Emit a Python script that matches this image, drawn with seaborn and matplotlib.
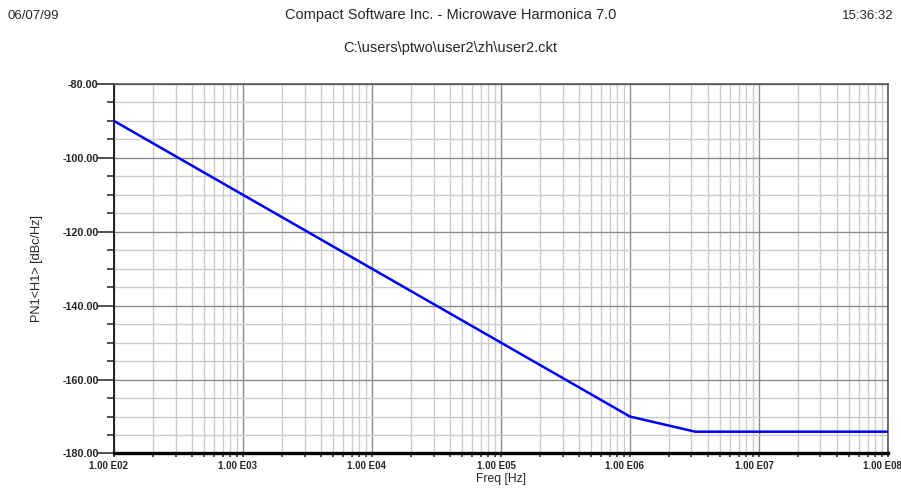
import numpy as np
import pandas as pd
import matplotlib
matplotlib.use("Agg")
import matplotlib.pyplot as plt
import seaborn as sns
from matplotlib.ticker import LogLocator, FixedLocator, MultipleLocator, NullFormatter
from matplotlib.transforms import ScaledTranslation

# values
freq_hz = [1e2, 1e3, 1e4, 1e5, 1e6, 3.2e6, 1e7, 1e8]
pn_dbc = [-90.0, -110.0, -130.0, -150.0, -170.0, -174.1, -174.1, -174.1]
x_ticks = [1e2, 1e3, 1e4, 1e5, 1e6, 1e7, 1e8]
x_labels = ["1.00 E02", "1.00 E03", "1.00 E04", "1.00 E05", "1.00 E06", "1.00 E07", "1.00 E08"]
y_ticks = [-80, -100, -120, -140, -160, -180]
y_labels = ["-80.00", "-100.00", "-120.00", "-140.00", "-160.00", "-180.00"]

df = pd.DataFrame({"Freq": freq_hz, "PN": pn_dbc})

sns.set_style("white")
plt.rcParams["font.family"] = ["Liberation Sans", "DejaVu Sans"]

fig = plt.figure(figsize=(9.01, 4.91), dpi=100)
ax = fig.add_axes([0.1265, 0.0764, 0.859, 0.7526])

sns.lineplot(data=df, x="Freq", y="PN", ax=ax, color="#0000ff", lw=1.8, zorder=5)

ax.set_xscale("log")
ax.set_xlim(1e2, 1e8)
ax.set_ylim(-180, -80)

ax.xaxis.set_major_locator(FixedLocator(x_ticks))
ax.set_xticklabels(x_labels)
ax.xaxis.set_minor_locator(LogLocator(base=10, subs=np.arange(2, 10)))
ax.xaxis.set_minor_formatter(NullFormatter())
ax.set_yticks(y_ticks)
ax.set_yticklabels(y_labels)
ax.yaxis.set_minor_locator(MultipleLocator(5))

ax.grid(which="major", color="#8c8c8c", lw=1.0)
ax.grid(which="minor", color="#cccccc", lw=1.0)
ax.set_axisbelow(True)

ax.tick_params(bottom=True, left=True, which="both")
ax.tick_params(axis="y", which="major", direction="out", length=12, width=1.2,
               color="#333333", labelsize=7.8, pad=-1)
ax.tick_params(axis="y", which="minor", direction="out", length=5, width=1.2, color="#333333")
ax.tick_params(axis="x", which="major", direction="out", length=3, width=1.2,
               color="#333333", labelsize=7, pad=2.5)
ax.tick_params(axis="x", which="minor", direction="out", length=3, width=1.2, color="#333333")
shift = ScaledTranslation(-5 / 100, 0, fig.dpi_scale_trans)
for lbl in ax.get_xticklabels():
    lbl.set_fontweight("bold")
    lbl.set_transform(lbl.get_transform() + shift)
for lbl in ax.get_yticklabels():
    lbl.set_fontweight("bold")

for side in ["left", "bottom", "top", "right"]:
    ax.spines[side].set_visible(True)
ax.spines["bottom"].set_linewidth(2.4)
ax.spines["bottom"].set_color("black")
ax.spines["left"].set_linewidth(1.4)
ax.spines["left"].set_color("#222222")
ax.spines["top"].set_linewidth(1.2)
ax.spines["top"].set_color("#555555")
ax.spines["right"].set_linewidth(1.2)
ax.spines["right"].set_color("#555555")

ax.set_xlabel("Freq [Hz]", fontsize=8.7, labelpad=1)
ax.set_ylabel("PN1<H1> [dBc/Hz]", fontsize=9.2, labelpad=14)

hdr = 10.5
fig.text(0.008, 0.9613, "06/07/99", fontsize=9.5, ha="left", va="baseline")
fig.text(0.5, 0.9613, "Compact Software Inc. - Microwave Harmonica 7.0", fontsize=hdr,
         ha="center", va="baseline")
fig.text(0.992, 0.9613, "15:36:32", fontsize=9.5, ha="right", va="baseline")
fig.text(0.5, 0.894, "C:\\users\\ptwo\\user2\\zh\\user2.ckt", fontsize=hdr,
         ha="center", va="baseline")

fig.savefig("out.png", dpi=100, facecolor="white")
